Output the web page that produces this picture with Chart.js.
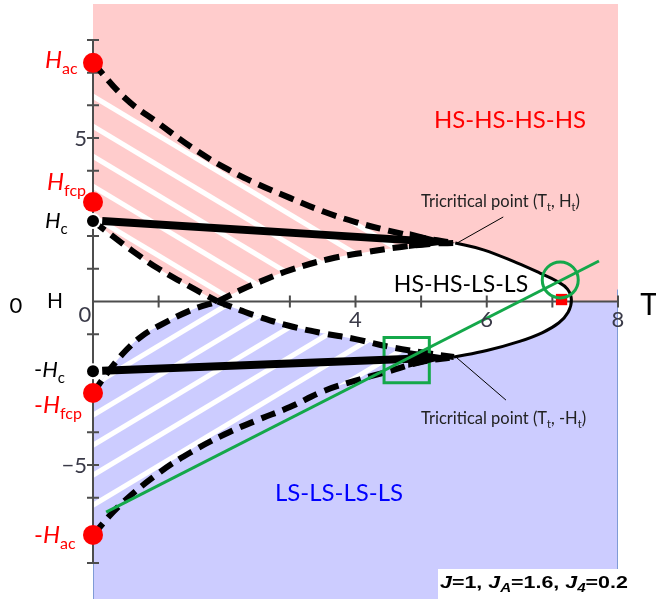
<!DOCTYPE html>
<html>
<head>
<meta charset="utf-8">
<script src="https://cdn.jsdelivr.net/npm/chart.js@4.4.0/dist/chart.umd.min.js"></script>
<style>
  html, body { margin: 0; padding: 0; background: #fff; }
  #wrap { width: 656px; height: 599px; }
</style>
</head>
<body>
<div id="wrap"><canvas id="phase" width="656" height="599"></canvas></div>
<script>
// phase boundaries, points are (T, H)
const outerUpper = [
  {x: 0, y: 7.3}, {x: 0.5, y: 6.2}, {x: 1.0, y: 5.45}, {x: 1.5, y: 4.72}, {x: 2.0, y: 4.1},
  {x: 2.5, y: 3.6}, {x: 3.0, y: 3.17}, {x: 3.5, y: 2.76}, {x: 4.0, y: 2.43}, {x: 4.5, y: 2.17},
  {x: 5.0, y: 1.95}, {x: 5.52, y: 1.79}
];
const innerUpperLeft = [
  {x: 0, y: 2.46}, {x: 0.3, y: 2.0}, {x: 0.6, y: 1.55}, {x: 1.0, y: 1.0}, {x: 1.5, y: 0.43}, {x: 1.9, y: 0}
];
const innerUpperRight = [
  {x: 1.9, y: 0}, {x: 2.25, y: 0.35}, {x: 2.5, y: 0.57}, {x: 3.0, y: 0.96}, {x: 3.6, y: 1.3},
  {x: 4.2, y: 1.52}, {x: 4.7, y: 1.67}, {x: 5.2, y: 1.77}, {x: 5.52, y: 1.79}
];
const innerLowerLeft = [
  {x: 0, y: -2.8}, {x: 0.25, y: -2.1}, {x: 0.5, y: -1.5}, {x: 0.75, y: -1.05}, {x: 1.0, y: -0.75},
  {x: 1.5, y: -0.26}, {x: 1.9, y: 0}
];
const innerLowerRight = [
  {x: 1.9, y: 0}, {x: 2.25, y: -0.27}, {x: 2.5, y: -0.45}, {x: 3.0, y: -0.75}, {x: 3.5, y: -0.97},
  {x: 4.0, y: -1.15}, {x: 4.5, y: -1.38}, {x: 5.0, y: -1.55}, {x: 5.5, y: -1.7}
];
const outerLower = [
  {x: 0, y: -7.14}, {x: 0.4, y: -6.25}, {x: 1.0, y: -5.25}, {x: 1.5, y: -4.6}, {x: 2.0, y: -4.07},
  {x: 2.5, y: -3.63}, {x: 3.0, y: -3.23}, {x: 3.5, y: -2.75}, {x: 4.0, y: -2.42}, {x: 4.5, y: -2.14},
  {x: 5.0, y: -1.85}, {x: 5.5, y: -1.7}
];
const lensLine = [
  {x: 5.52, y: 1.79}, {x: 5.95, y: 1.58}, {x: 6.46, y: 1.18}, {x: 6.81, y: 0.87}, {x: 7.07, y: 0.62},
  {x: 7.23, y: 0.38}, {x: 7.29, y: 0.05}, {x: 7.24, y: -0.33}, {x: 7.1, y: -0.65}, {x: 6.85, y: -0.95},
  {x: 6.5, y: -1.22}, {x: 6.0, y: -1.5}, {x: 5.5, y: -1.7}
];

// arrows Hc -> (Tt, Ht) and -Hc -> (Tt, -Ht)
const hcArrow = [{x: 0.14, y: 2.46}, {x: 5.52, y: 1.79}];
const minusHcArrow = [{x: 0.14, y: -2.12}, {x: 5.5, y: -1.7}];

// markers
const redDots = [{x: 0, y: 7.3}, {x: 0, y: 3.04}, {x: 0, y: -2.8}, {x: 0, y: -7.14}];
const blackDots = [{x: 0, y: 2.46}, {x: 0, y: -2.13}];
const greenLine = [{x: 0.2, y: -6.44}, {x: 7.71, y: 1.24}];
const greenCircle = [{x: 7.12, y: 0.66}];
const greenBox = [{x: 4.78, y: -1.79}];
const redSquare = [{x: 7.14, y: 0.06}];

// axes
const xTicks = [1, 2, 3, 4, 5, 6, 7, 8];
const yTicks = [-8, -7, -6, -5, -4, -3, -2, -1, 1, 2, 3, 4, 5, 6, 7, 8];
const xTickLabels = [4, 6, 8];
const yTickLabels = [5, -5];

const PINK = '#ffcccc';
const BLUE = '#ccccff';
const GREEN = '#14a84a';

function stripePattern(offset, dir) {
  const c = document.createElement('canvas');
  c.width = 50; c.height = 30;
  const g = c.getContext('2d');
  g.strokeStyle = '#ffffff';
  g.lineWidth = 5;
  for (let k = -3; k <= 3; k++) {
    g.beginPath();
    g.moveTo(-50, offset + 30 * k - 30 * dir);
    g.lineTo(100, offset + 30 * k + 60 * dir);
    g.stroke();
  }
  return g.createPattern(c, 'repeat');
}

function curve(data, dashed) {
  return {
    data: data, showLine: true, borderColor: '#000', borderWidth: dashed ? 6 : 3,
    borderDash: dashed ? [15, 8] : [], tension: 0.4, pointRadius: 0, fill: false,
    order: 5, clip: false
  };
}

// closed path made of several dataset lines
function tracePath(ctx, chart, parts) {
  ctx.beginPath();
  parts.forEach(function(p, i) {
    const line = chart.getDatasetMeta(p[0]).dataset;
    line.updateControlPoints(chart.chartArea, 'x');
    line.segments.forEach(function(seg) {
      line.pathSegment(ctx, seg, {move: i === 0, reverse: p[1]});
    });
  });
  ctx.closePath();
}

function drawArrow(ctx, chart, pts) {
  const xs = chart.scales.x, ys = chart.scales.y;
  const x0 = xs.getPixelForValue(pts[0].x), y0 = ys.getPixelForValue(pts[0].y);
  const x1 = xs.getPixelForValue(pts[1].x), y1 = ys.getPixelForValue(pts[1].y);
  const a = Math.atan2(y1 - y0, x1 - x0);
  const headLen = 46, headW = 9;
  const bx = x1 - Math.cos(a) * headLen, by = y1 - Math.sin(a) * headLen;
  ctx.save();
  ctx.strokeStyle = '#000';
  ctx.lineWidth = 8;
  ctx.beginPath();
  ctx.moveTo(x0, y0);
  ctx.lineTo(bx + Math.cos(a) * 4, by + Math.sin(a) * 4);
  ctx.stroke();
  ctx.fillStyle = '#000';
  ctx.beginPath();
  ctx.moveTo(x1, y1);
  ctx.lineTo(bx + Math.sin(a) * headW, by - Math.cos(a) * headW);
  ctx.lineTo(bx - Math.sin(a) * headW, by + Math.cos(a) * headW);
  ctx.closePath();
  ctx.fill();
  ctx.restore();
}

// text with subscripts: parts [{t, sub, it}]
function drawRich(ctx, x, y, parts, size, family, color, weight, stretch) {
  ctx.save();
  ctx.translate(x, y);
  ctx.scale(stretch || 1, 1);
  ctx.fillStyle = color;
  ctx.textBaseline = 'alphabetic';
  ctx.textAlign = 'left';
  let cx = 0;
  parts.forEach(function(p) {
    const s = p.sub ? Math.round(size * 0.68) : size;
    ctx.font = (p.it ? 'italic ' : '') + (weight || 'normal') + ' ' + s + 'px ' + family;
    ctx.fillText(p.t, cx, p.sub ? Math.round(size * 0.25) : 0);
    cx += ctx.measureText(p.t).width;
  });
  ctx.restore();
}

const phasePlugin = {
  id: 'phase',
  beforeDatasetsDraw(chart) {
    const ctx = chart.ctx;
    const xs = chart.scales.x, ys = chart.scales.y;
    const l = xs.getPixelForValue(xs.min), r = xs.getPixelForValue(xs.max);
    const t = ys.getPixelForValue(ys.max), b = ys.getPixelForValue(ys.min);
    const z = ys.getPixelForValue(0);
    ctx.save();
    ctx.fillStyle = PINK;
    ctx.fillRect(l, t, r - l, z - t);
    ctx.fillStyle = BLUE;
    ctx.fillRect(l, z, r - l, b - z);
    ctx.strokeStyle = '#7f9bd6';
    ctx.lineWidth = 1;
    ctx.beginPath();
    ctx.moveTo(r - 0.5, z - 12); ctx.lineTo(r - 0.5, b);
    ctx.moveTo(l + 0.5, ys.getPixelForValue(-8)); ctx.lineTo(l + 0.5, b);
    ctx.stroke();

    // white regions
    ctx.fillStyle = '#ffffff';
    tracePath(ctx, chart, [[1, false], [3, true]]);
    ctx.fill();
    tracePath(ctx, chart, [[2, false], [6, false], [4, true]]);
    ctx.fill();

    // hatched regions
    ctx.fillStyle = stripePattern(10.5, 1);
    tracePath(ctx, chart, [[0, false], [2, true], [1, true]]);
    ctx.fill();
    ctx.fillStyle = stripePattern(21, -1);
    tracePath(ctx, chart, [[5, false], [4, true], [3, true]]);
    ctx.fill();

    // axes
    const x0 = xs.getPixelForValue(0);
    ctx.strokeStyle = '#4d4d4d';
    ctx.lineWidth = 2;
    ctx.beginPath();
    ctx.moveTo(x0, ys.getPixelForValue(8)); ctx.lineTo(x0, ys.getPixelForValue(-8));
    ctx.moveTo(x0, z); ctx.lineTo(xs.getPixelForValue(8), z);
    yTicks.forEach(function(v) {
      const py = ys.getPixelForValue(v);
      ctx.moveTo(x0 - 6, py); ctx.lineTo(x0 + 6, py);
    });
    xTicks.forEach(function(v) {
      const px = xs.getPixelForValue(v);
      ctx.moveTo(px, z - 6); ctx.lineTo(px, z + 6);
    });
    ctx.stroke();
    ctx.restore();
  },
  beforeDatasetDraw(chart, args) {
    if (args.index === 7) {
      drawArrow(chart.ctx, chart, hcArrow);
      drawArrow(chart.ctx, chart, minusHcArrow);
    }
  },
  afterDraw(chart) {
    const ctx = chart.ctx;
    const xs = chart.scales.x, ys = chart.scales.y;
    const x0 = xs.getPixelForValue(0), z = ys.getPixelForValue(0);
    const F = 'Lato, "Open Sans", sans-serif';
    ctx.save();

    // tick labels
    ctx.fillStyle = '#3a3a48';
    ctx.font = '22px ' + F;
    ctx.textBaseline = 'middle';
    ctx.textAlign = 'center';
    xTickLabels.forEach(function(v) {
      ctx.fillText(String(v), xs.getPixelForValue(v), z + 18);
    });
    ctx.textAlign = 'right';
    yTickLabels.forEach(function(v) {
      ctx.fillText(v < 0 ? '\u2212' + (-v) : String(v), x0 - 6, ys.getPixelForValue(v) + 1);
    });
    ctx.textAlign = 'center';
    ctx.fillText('0', x0 - 8, z + 13);
    ctx.fillStyle = '#000';
    ctx.fillText('0', 16, z + 4);
    ctx.font = '21px ' + F;
    ctx.fillText('H', 55, z);
    ctx.font = '30px ' + F;
    ctx.fillText('T', 649, z + 4);

    // phase names
    ctx.font = '24px ' + F;
    ctx.fillStyle = '#ff0000';
    ctx.fillText('HS-HS-HS-HS', 510, 120);
    ctx.fillStyle = '#0000ff';
    ctx.fillText('LS-LS-LS-LS', 339, 493);
    ctx.fillStyle = '#000';
    ctx.font = '23px ' + F;
    ctx.fillText('HS-HS-LS-LS', 461, 285);
    ctx.restore();

    // field labels on the H axis
    const red = '#ff0000';
    const hl = [
      {pre: '', sub: 'ac', color: red, h: redDots[0].y, x: 45, dy: 5, size: 24},
      {pre: '', sub: 'fcp', color: red, h: redDots[1].y, x: 47, dy: -12, size: 24},
      {pre: '', sub: 'c', color: '#000', h: blackDots[0].y, x: 45, dy: 7, size: 22},
      {pre: '-', sub: 'c', color: '#000', h: blackDots[1].y, x: 34, dy: 6, size: 22},
      {pre: '-', sub: 'fcp', color: red, h: redDots[2].y, x: 34, dy: 20, size: 24},
      {pre: '-', sub: 'ac', color: red, h: redDots[3].y, x: 34, dy: 8, size: 24}
    ];
    hl.forEach(function(o) {
      drawRich(ctx, o.x, ys.getPixelForValue(o.h) + o.dy,
        [{t: o.pre}, {t: 'H', it: true}, {t: o.sub, sub: true}], o.size, F, o.color);
    });

    // tricritical notes
    const pu = {x: xs.getPixelForValue(hcArrow[1].x), y: ys.getPixelForValue(hcArrow[1].y)};
    const pl = {x: xs.getPixelForValue(minusHcArrow[1].x), y: ys.getPixelForValue(minusHcArrow[1].y)};
    ctx.save();
    ctx.strokeStyle = '#000';
    ctx.lineWidth = 1;
    ctx.beginPath();
    ctx.moveTo(pu.x + 2, pu.y); ctx.lineTo(pu.x + 48, pu.y - 26);
    ctx.moveTo(pl.x + 2, pl.y); ctx.lineTo(pl.x + 52, pl.y + 43);
    ctx.stroke();
    ctx.restore();
    drawRich(ctx, 421, 207, [{t: 'Tricritical point (T'}, {t: 't', sub: true}, {t: ', H'}, {t: 't', sub: true}, {t: ')'}], 16.5, F, '#222');
    drawRich(ctx, 421, 424, [{t: 'Tricritical point (T'}, {t: 't', sub: true}, {t: ', -H'}, {t: 't', sub: true}, {t: ')'}], 16.5, F, '#222');

    // parameter box
    ctx.save();
    ctx.fillStyle = '#fff';
    ctx.fillRect(438, 569, 218, 30);
    ctx.restore();
    drawRich(ctx, 440, 588, [
      {t: 'J', it: true}, {t: '=1, '}, {t: 'J', it: true}, {t: 'A', sub: true, it: true},
      {t: '=1.6, '}, {t: 'J', it: true}, {t: '4', sub: true, it: true}, {t: '=0.2'}
    ], 17, '"Liberation Sans", Arial, sans-serif', '#000', 'bold', 1.26);
  }
};

new Chart(document.getElementById('phase'), {
  type: 'line',
  data: {
    datasets: [
      curve(outerUpper, true),
      curve(innerUpperLeft, true),
      curve(innerUpperRight, true),
      curve(innerLowerLeft, true),
      curve(innerLowerRight, true),
      curve(outerLower, true),
      curve(lensLine, false),
      {data: greenLine, showLine: true, borderColor: GREEN, borderWidth: 3, pointRadius: 0, order: 3, clip: false},
      {data: greenCircle, showLine: false, pointStyle: 'circle', pointRadius: 18, pointBackgroundColor: 'rgba(0,0,0,0)',
        pointBorderColor: GREEN, pointBorderWidth: 3, order: 3, clip: false},
      {data: greenBox, showLine: false, pointStyle: 'rect', pointRadius: 32, pointBackgroundColor: 'rgba(0,0,0,0)',
        pointBorderColor: GREEN, pointBorderWidth: 3, order: 3, clip: false},
      {data: redSquare, showLine: false, pointStyle: 'rect', pointRadius: 8, pointBackgroundColor: '#ff0000',
        pointBorderWidth: 0, order: 6, clip: false},
      {data: redDots, showLine: false, pointRadius: 10, pointBackgroundColor: '#ff0000', pointBorderWidth: 0,
        order: 1, clip: false},
      {data: blackDots, showLine: false, pointRadius: 7, pointBackgroundColor: '#000', pointBorderColor: '#fff',
        pointBorderWidth: 2, order: 1, clip: false}
    ]
  },
  options: {
    responsive: false,
    animation: false,
    devicePixelRatio: 1,
    events: [],
    layout: {autoPadding: false, padding: {left: 93, right: 38, top: 4, bottom: 0}},
    plugins: {legend: {display: false}, tooltip: {enabled: false}},
    scales: {
      x: {type: 'linear', min: 0, max: 8, display: false},
      y: {type: 'linear', min: -9.1, max: 9.1, display: false}
    }
  },
  plugins: [phasePlugin]
});
</script>
</body>
</html>
